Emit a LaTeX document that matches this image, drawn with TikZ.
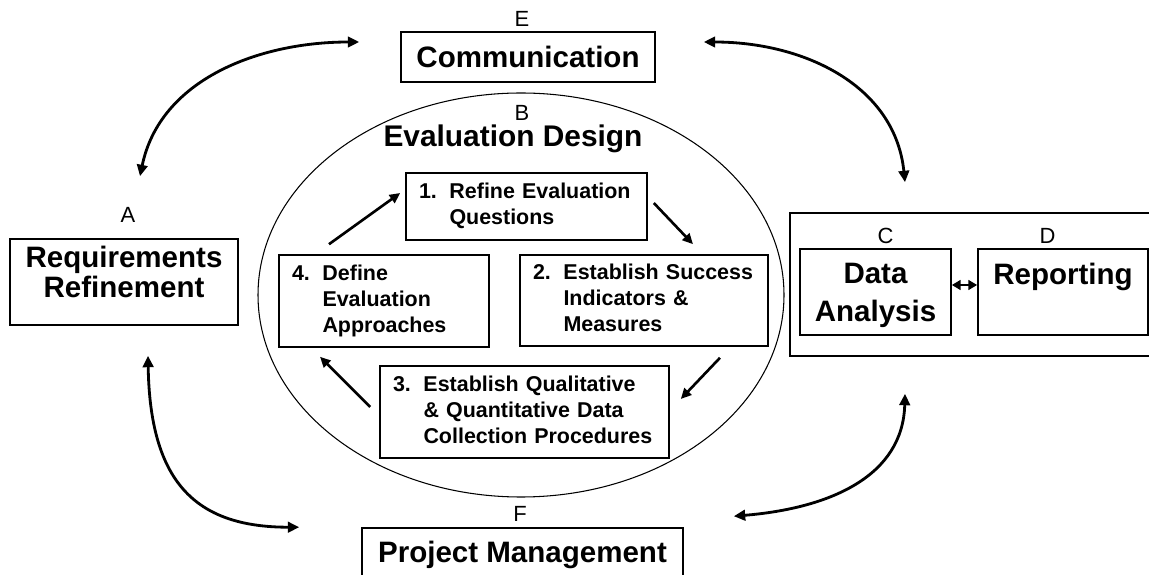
\documentclass[tikz,border=0pt]{standalone}
\usepackage{fontspec}
\setmainfont{Liberation Sans}
\usetikzlibrary{arrows.meta}

\tikzset{
  box/.style={draw, line width=0.9pt, inner ysep=0pt},
  bigtext/.style={font=\fontsize{16.8}{21.6}\selectfont\bfseries},
  stepbox/.style={draw, line width=0.9pt, inner xsep=0.26cm, inner ysep=2pt,
    align=left, font=\fontsize{12.2}{14.8}\selectfont\bfseries},
  tag/.style={anchor=base, font=\fontsize{12.5}{15}\selectfont},
  link/.style={{Triangle[length=6.5pt,width=6pt]}-{Triangle[length=6.5pt,width=6pt]},
    line width=1.6pt},
  flow/.style={-{Triangle[length=6pt,width=5.5pt]}, line width=1.5pt},
}

% numbered step with hanging lines
\newcommand{\stepitem}[2]{%
  \begin{tabular}[t]{@{}p{0.61cm}@{}l@{}}#1 & \begin{tabular}[t]{@{}l@{}}#2\end{tabular}\end{tabular}}

\begin{document}
\begin{tikzpicture}[scale=1.0]
  \clip (0,0) rectangle (22.98,-11.5);

  % Outer activities
  \node[box, bigtext, minimum width=5.08cm, text height=0.72cm, text depth=0.28cm]
    (comm) at (10.56,-1.14) {Communication};
  \node[box, bigtext, minimum width=4.56cm, text height=0.58cm, text depth=1.14cm]
    (req) at (2.48,-5.64)
    {\fontsize{16.8}{14.6}\selectfont\begin{tabular}[t]{@{}c@{}}Requirements\\Refinement\end{tabular}};
  \node[box, bigtext, minimum width=6.42cm, text height=0.69cm, text depth=1.0cm]
    (pm) at (10.45,-11.405) {Project Management};

  % Analysis and reporting
  \draw[line width=0.9pt] (15.8,-4.26) rectangle (23.5,-7.12);
  \node[box, bigtext, minimum width=3.02cm, text height=0.70cm, text depth=1.02cm]
    (da) at (17.51,-5.84) {\begin{tabular}[t]{@{}c@{}}Data\\Analysis\end{tabular}};
  \node[box, bigtext, minimum width=3.40cm, text height=0.72cm, text depth=1.0cm]
    (rep) at (21.26,-5.84) {Reporting};
  \draw[{Triangle[length=5pt,width=5.5pt]}-{Triangle[length=5pt,width=5.5pt]}, line width=1.5pt]
    ([yshift=0.14cm]da.east) -- ([yshift=0.14cm]rep.west);

  % Evaluation design cycle
  \draw[line width=0.6pt] (10.42,-5.90) ellipse [x radius=5.26, y radius=4.04];
  \node[anchor=base, font=\fontsize{17}{20}\selectfont\bfseries] (evd) at (10.26,-2.93) {Evaluation Design};
  \node[stepbox, text width=4.30cm, minimum height=1.34cm] (b1) at (10.53,-4.13)
    {\stepitem{1.}{Refine Evaluation\\Questions}};
  \node[stepbox, text width=4.44cm, minimum height=1.82cm] (b2) at (12.88,-6.01)
    {\stepitem{2.}{Establish Success\\Indicators \&\\Measures}};
  \node[stepbox, text width=5.26cm, minimum height=1.84cm] (b3) at (10.49,-8.24)
    {\stepitem{3.}{Establish Qualitative\\\& Quantitative Data\\Collection Procedures}};
  \node[stepbox, text width=3.68cm, minimum height=1.84cm] (b4) at (7.68,-6.02)
    {\stepitem{4.}{Define\\Evaluation\\Approaches}};

  \draw[flow] ([shift={(-1.1,0.2)}]b4.north) -- ([shift={(-0.1,0.27)}]b1.west);
  \draw[flow] ([shift={(0.12,0.07)}]b1.east) -- ([shift={(0.98,0.2)}]b2.north);
  \draw[flow] ([shift={(1.52,-0.22)}]b2.south) -- ([shift={(0.22,0.26)}]b3.east);
  \draw[flow] ([shift={(-0.18,0.1)}]b3.west) -- ([shift={(-1.28,-0.18)}]b4.south);

  % Letters
  \node[tag] (ta) at (2.56,-4.45) {A};
  \node[tag] (tb) at (10.44,-2.41) {B};
  \node[tag] (tc) at (17.71,-4.87) {C};
  \node[tag] (td) at (20.95,-4.87) {D};
  \node[tag] (te) at (10.44,-0.53) {E};
  \node[tag] (tf) at (10.40,-10.43) {F};

  % Two-way links
  \draw[link] ([shift={(-0.82,0.3)}]comm.west) .. controls +(-2,0) and +(0.4,1.94) .. ([shift={(0.32,1.24)}]req.north);
  \draw[link] ([shift={(0.96,0.3)}]comm.east) .. controls +(2,0) and +(-0.2,1.94) .. ([shift={(0.59,1.32)}]da.north);
  \draw[link] ([shift={(0.48,-0.6)}]req.south) .. controls +(0.04,-2.5) and +(-2.1,0) .. ([shift={(-1.24,0)}]pm.north west);
  \draw[link] ([shift={(0.59,-1.16)}]da.south) .. controls +(-0.04,-1.64) and +(1.94,0.16) .. ([shift={(1.0,0.22)}]pm.north east);
\end{tikzpicture}
\end{document}
